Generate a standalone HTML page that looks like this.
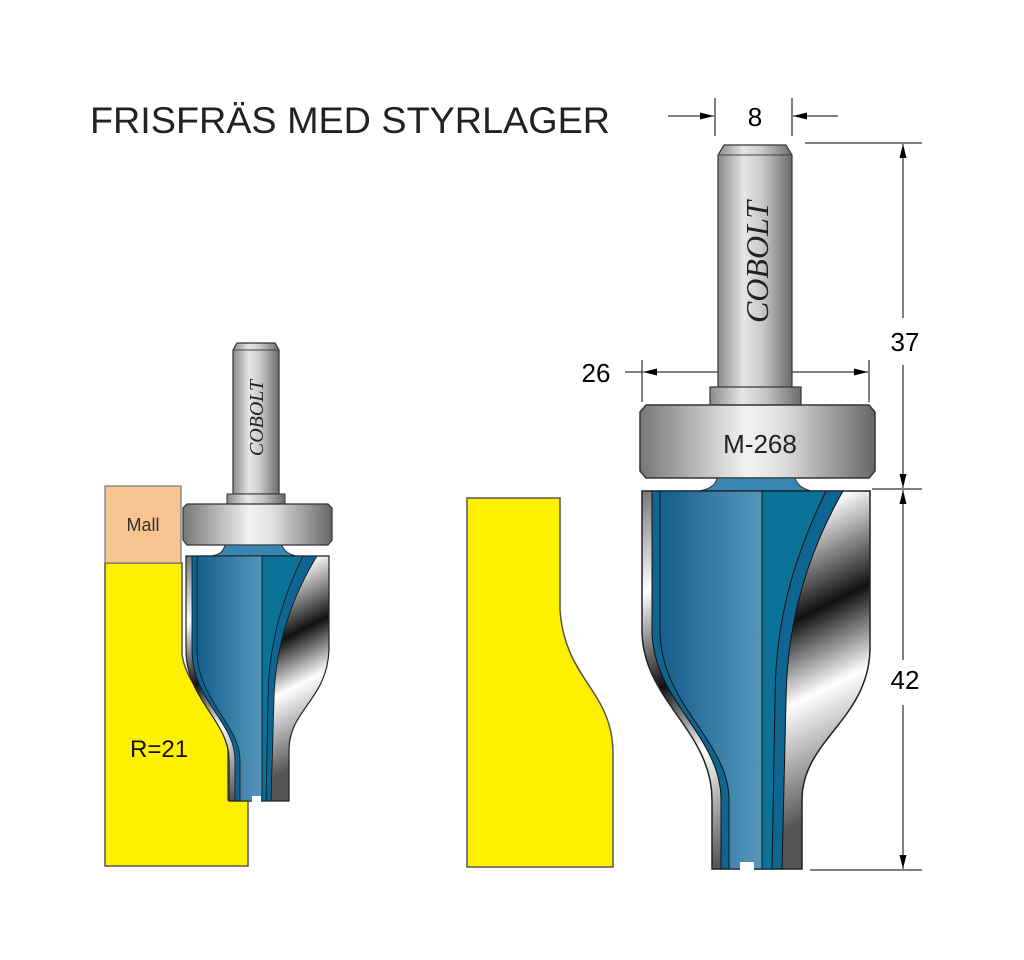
<!DOCTYPE html>
<html><head><meta charset="utf-8"><style>html,body{margin:0;padding:0;background:#fff;width:1024px;height:960px;overflow:hidden}</style></head>
<body>
<svg width="1024" height="960" viewBox="0 0 1024 960" xmlns="http://www.w3.org/2000/svg" font-family="Liberation Sans, sans-serif">
<defs>
<linearGradient id="sh" x1="0" x2="1" y1="0" y2="0">
<stop offset="0" stop-color="#8a8a8a"/><stop offset="0.35" stop-color="#e6e6e6"/><stop offset="0.6" stop-color="#c8c8c8"/><stop offset="1" stop-color="#6a6a6a"/></linearGradient>
<linearGradient id="br" x1="0" x2="1" y1="0" y2="0">
<stop offset="0" stop-color="#777"/><stop offset="0.45" stop-color="#f2f2f2"/><stop offset="0.6" stop-color="#e0e0e0"/><stop offset="1" stop-color="#666"/></linearGradient>
<linearGradient id="bl" x1="0" x2="1" y1="0" y2="0">
<stop offset="0" stop-color="#145f8e"/><stop offset="1" stop-color="#5796bb"/></linearGradient>
<linearGradient id="cr" x1="0" x2="0.3" y1="0" y2="1">
<stop offset="0" stop-color="#777"/><stop offset="0.25" stop-color="#fff"/><stop offset="0.5" stop-color="#111"/><stop offset="0.7" stop-color="#fff"/><stop offset="1" stop-color="#555"/></linearGradient>
<marker id="ar" viewBox="0 0 10 10" refX="10" refY="5" markerWidth="14" markerHeight="14" markerUnits="userSpaceOnUse" orient="auto-start-reverse"><path d="M0,2.5 L10,5 L0,7.5 Z" fill="#000"/></marker>
</defs>

<text x="90" y="133" font-size="37" fill="#222" textLength="520" lengthAdjust="spacingAndGlyphs">FRISFRÄS MED STYRLAGER</text>

<!-- dimension 8 -->
<line x1="715" y1="98" x2="715" y2="136" stroke="#000"/>
<line x1="792" y1="98" x2="792" y2="136" stroke="#000"/>
<line x1="668" y1="116" x2="714" y2="116" stroke="#000" marker-end="url(#ar)"/>
<line x1="838" y1="116" x2="793" y2="116" stroke="#000" marker-end="url(#ar)"/>
<text x="755" y="126" font-size="26" text-anchor="middle">8</text>
<!-- dimension 26 -->
<line x1="642" y1="360" x2="642" y2="402" stroke="#000"/>
<line x1="869" y1="360" x2="869" y2="402" stroke="#000"/>
<line x1="625" y1="372" x2="642" y2="372" stroke="#000"/>
<line x1="660" y1="372" x2="643" y2="372" stroke="#000" marker-end="url(#ar)"/>
<line x1="660" y1="372" x2="868" y2="372" stroke="#000" marker-end="url(#ar)"/>
<text x="596" y="382" font-size="26" text-anchor="middle">26</text>
<!-- vertical dims -->
<line x1="805" y1="143" x2="922" y2="143" stroke="#000"/>
<line x1="872" y1="489" x2="922" y2="489" stroke="#000"/>
<line x1="810" y1="870" x2="922" y2="870" stroke="#000"/>
<line x1="903" y1="318" x2="903" y2="144" stroke="#000" marker-end="url(#ar)"/>
<line x1="903" y1="365" x2="903" y2="488" stroke="#000" marker-end="url(#ar)"/>
<line x1="903" y1="660" x2="903" y2="490" stroke="#000" marker-end="url(#ar)"/>
<line x1="903" y1="705" x2="903" y2="869" stroke="#000" marker-end="url(#ar)"/>
<text x="905" y="351" font-size="26" text-anchor="middle">37</text>
<text x="905" y="689" font-size="26" text-anchor="middle">42</text>

<!-- middle yellow -->
<path d="M467,498 L560,498 L560,610 C565,680 612,690 613,752 L613,867 L467,867 Z" fill="#fff000" stroke="#555" stroke-width="1.5"/>

<!-- left yellow + mall -->
<path d="M105,563 L182,563 L182,655 C190,700 228,705 228,745 L228,800 L248,800 L248,866 L105,866 Z" fill="#fff000" stroke="#555" stroke-width="1.5"/>
<rect x="105" y="486" width="76" height="77" fill="#f8c48f" stroke="#777" stroke-width="1.2"/>
<text x="143" y="531" font-size="18" text-anchor="middle" fill="#333">Mall</text>
<text x="130" y="757" font-size="24" fill="#111">R=21</text>

<!-- BIG CUTTER -->
<path d="M724,145 L786,145 L792,155 L792,388 L718,388 L718,155 Z" fill="url(#sh)" stroke="#333" stroke-width="1.2"/>
<line x1="718" y1="155" x2="792" y2="155" stroke="#444"/>
<text transform="translate(768,262) rotate(-90)" font-family="Liberation Serif, serif" font-style="italic" font-size="32" text-anchor="middle" fill="#222">COBOLT</text>
<rect x="710" y="387" width="91" height="20" fill="url(#sh)" stroke="#333" stroke-width="1.2"/>
<path d="M646,405 L869,405 L875,412 L875,471 L869,478 L646,478 L640,471 L640,412 Z" fill="url(#br)" stroke="#333" stroke-width="1.5"/>
<text x="760" y="453" font-size="26" text-anchor="middle" fill="#222">M-268</text>
<path d="M717,478 L795,478 C798,488 808,490 815,492 L695,492 C705,490 715,488 717,478 Z" fill="#3a86b2" stroke="#333"/>
<!-- body -->
<path d="M642,491 L870,491 L870,650 C868,720 802,740 802,800 L802,869 L712,869 L712,800 C712,730 642,700 642,630 Z" fill="url(#cr)" stroke="#222" stroke-width="1.5"/>
<path d="M652,491 L843,491 C815,540 787,610 786,700 L782,869 L721,869 L721,800 C721,735 652,700 652,630 Z" fill="#0e6592" stroke="#111" stroke-width="1"/>
<path d="M660,491 L762,491 L762,869 L729,869 L729,800 C729,740 660,705 660,630 Z" fill="url(#bl)" stroke="#111" stroke-width="1"/>
<path d="M762,491 L826,491 C800,545 775,610 775,700 L772,869 L762,869 Z" fill="#0b7399" stroke="#111" stroke-width="1"/>
<rect x="740" y="862" width="14" height="8" fill="#fff"/>

<!-- SMALL CUTTER -->
<path d="M237,343 L275,343 L279,350 L279,494 L233,494 L233,350 Z" fill="url(#sh)" stroke="#333" stroke-width="1.2"/>
<line x1="233" y1="350" x2="279" y2="350" stroke="#444"/>
<text transform="translate(263,418) rotate(-90)" font-family="Liberation Serif, serif" font-style="italic" font-size="20" text-anchor="middle" fill="#222">COBOLT</text>
<rect x="227" y="494" width="58" height="10" fill="url(#sh)" stroke="#333" stroke-width="1"/>
<path d="M187,504 L328,504 L332,508 L332,540 L328,545 L187,545 L183,540 L183,508 Z" fill="url(#br)" stroke="#333" stroke-width="1.2"/>
<path d="M225,545 L282,545 C284,552 290,554 296,556 L212,556 C220,554 223,552 225,545 Z" fill="#3a86b2" stroke="#333"/>
<path d="M186,556 L329,556 L329,650 C327,700 289,710 289,750 L289,801 L229,801 L229,760 C229,720 186,700 186,650 Z" fill="url(#cr)" stroke="#222" stroke-width="1.2"/>
<path d="M192,556 L317,556 C296,590 275,640 274,700 L271,801 L235,801 L235,760 C235,722 192,700 192,650 Z" fill="#0e6592" stroke="#111" stroke-width="0.8"/>
<path d="M197,556 L262,556 L262,801 L240,801 L240,760 C240,725 197,700 197,650 Z" fill="url(#bl)" stroke="#111" stroke-width="0.8"/>
<path d="M262,556 L303,556 C286,590 268,640 268,700 L266,801 L262,801 Z" fill="#0b7399" stroke="#111" stroke-width="0.8"/>
<rect x="252" y="796" width="9" height="6" fill="#fff"/>
</svg>
</body></html>
